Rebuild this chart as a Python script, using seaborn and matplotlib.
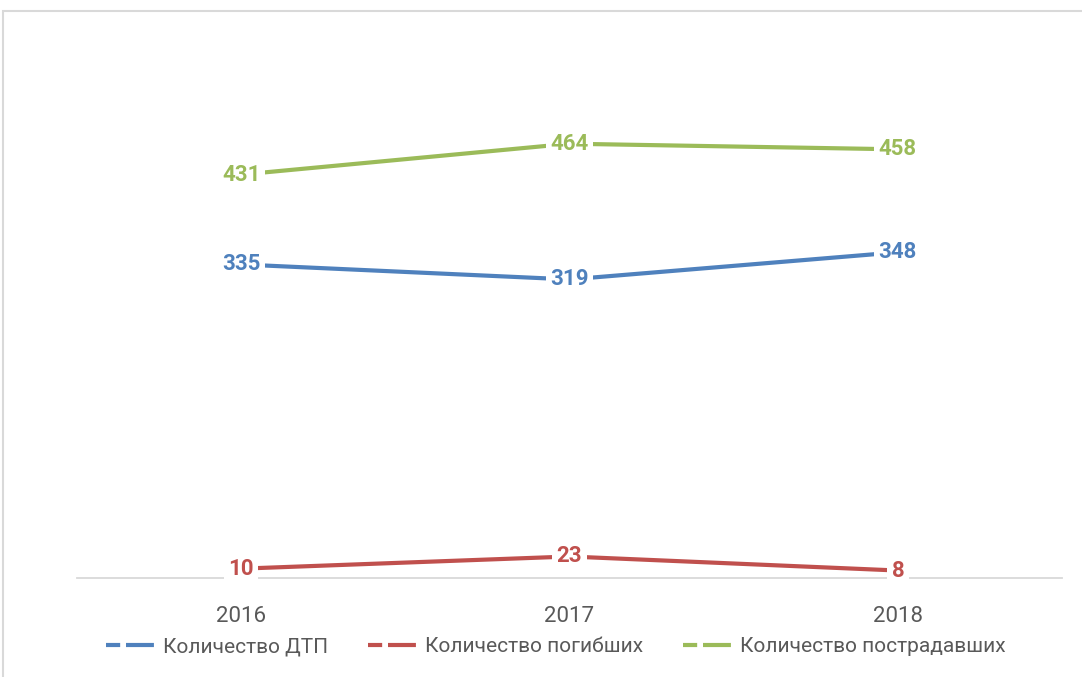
import pandas as pd
import seaborn as sns
import matplotlib.pyplot as plt
from matplotlib.lines import Line2D
from matplotlib.patches import Rectangle

# Data
years = ["2016", "2017", "2018"]
dtp = [335, 319, 348]
killed = [10, 23, 8]
injured = [431, 464, 458]
series_names = ["Количество ДТП", "Количество погибших", "Количество пострадавших"]
colors = ["#4f81bd", "#c0504d", "#9bbb59"]

df = pd.DataFrame({
    "year": years * 3,
    "value": dtp + killed + injured,
    "series": [series_names[0]] * 3 + [series_names[1]] * 3 + [series_names[2]] * 3,
})
df["x"] = df["year"].map({y: i for i, y in enumerate(years)})

sns.set_theme(style="white")
plt.rcParams["font.family"] = ["Roboto", "DejaVu Sans"]

fig = plt.figure(figsize=(10.82, 6.77), dpi=100)
ax = fig.add_axes([0.0712, 0.1462, 0.9103, 0.6913])

sns.lineplot(data=df, x="x", y="value", hue="series", palette=colors,
             hue_order=series_names, linewidth=3, legend=False, ax=ax)

# data labels centred on the points, white box hides the line
for name, col in zip(series_names, colors):
    sub = df[df["series"] == name]
    for xv, yv in zip(sub["x"], sub["value"]):
        ax.text(xv, yv, str(yv), color=col, fontsize=16, fontweight="bold",
                ha="center", va="center",
                bbox=dict(boxstyle="square,pad=0.2", fc="white", ec="none"))

ax.set_xlim(-0.5, 2.5)
ax.set_ylim(0, 500)
ax.set_xticks(range(len(years)))
ax.set_xticklabels(years, fontsize=16, color="#595959")
ax.set_yticks([])
ax.set_xlabel("")
ax.set_ylabel("")
ax.tick_params(axis="x", length=0, pad=20)
for s in ["top", "right", "left"]:
    ax.spines[s].set_visible(False)
ax.spines["bottom"].set_color("#d9d9d9")
ax.spines["bottom"].set_linewidth(1.3)

handles = [Line2D([0], [0], color=c, lw=3, linestyle=(0, (3.4, 1.4, 6.7, 1.4)))
           for c in colors]
fig.legend(handles, series_names, loc="center", bbox_to_anchor=(0.514, 0.045),
           ncol=3, frameon=False, fontsize=15, handlelength=2.4,
           handletextpad=0.35, columnspacing=1.9, labelcolor="#595959")

# light chart frame
fig.patches.append(Rectangle((0.003, -0.05), 1.2, 1.034, transform=fig.transFigure,
                             fill=False, ec="#d9d9d9", lw=1.5))

fig.savefig("out.png", dpi=100)
